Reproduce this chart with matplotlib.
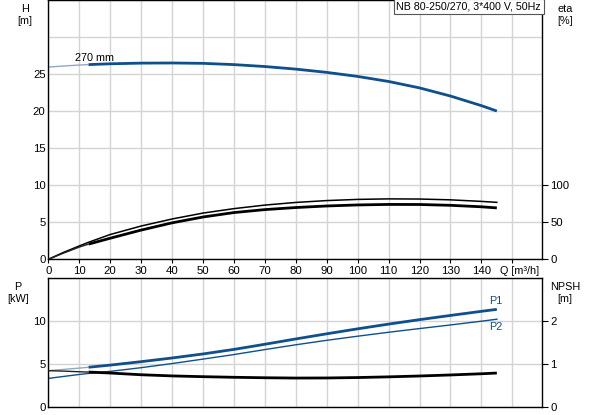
import numpy as np
import matplotlib
matplotlib.use("Agg")
import matplotlib.pyplot as plt

plt.rcParams["font.family"] = ["Liberation Sans", "DejaVu Sans"]
plt.rcParams["font.size"] = 8.2

# flow rate Q [m3/h]
q = [0, 5, 10, 13, 20, 30, 40, 50, 60, 70, 80, 90, 100, 110, 120, 130, 140, 145]
# head H [m]
head = [26.0, 26.14, 26.27, 26.33, 26.44, 26.53, 26.55, 26.5, 26.33, 26.07,
        25.72, 25.28, 24.73, 24.05, 23.18, 22.08, 20.78, 20.05]
# efficiencies [%]
eta_pump = [0, 9.5, 18, 23, 33.5, 45, 54.5, 62.5, 68.5, 73.3, 76.9, 79.4,
            81, 81.7, 81.5, 80.4, 78.3, 77]
eta_total = [0, 8.5, 16.5, 20.5, 28.5, 39.5, 49.3, 57.2, 63.2, 67.2, 70,
             72.1, 73.5, 74.2, 74.1, 73, 71, 69.5]
# power [kW]
p1 = [4.2, 4.35, 4.5, 4.6, 4.85, 5.25, 5.68, 6.15, 6.68, 7.28, 7.9, 8.5,
      9.08, 9.63, 10.15, 10.64, 11.12, 11.35]
p2 = [3.3, 3.53, 3.76, 3.88, 4.12, 4.55, 5.03, 5.55, 6.08, 6.66, 7.22, 7.74,
      8.22, 8.68, 9.11, 9.53, 9.97, 10.2]
# NPSH [m]
npsh = [0.84, 0.83, 0.815, 0.808, 0.785, 0.745, 0.718, 0.70, 0.686, 0.675,
        0.668, 0.67, 0.68, 0.696, 0.716, 0.74, 0.768, 0.785]

q_min_op = 13  # start of the recommended operating range (thick line)
title = "NB 80-250/270, 3*400 V, 50Hz"

BLUE = "#0f4f8c"
BLUE_LIGHT = "#8ea8c6"
DARK = "#222222"
GRID = "#d4d4d4"

qa = np.array(q)
op = qa >= q_min_op


def split_curve(ax, y, color, light, lw):
    y = np.array(y)
    ax.plot(qa[qa <= q_min_op], y[qa <= q_min_op], color=light, lw=1.0,
            solid_capstyle="butt")
    ax.plot(qa[op], y[op], color=color, lw=lw, solid_capstyle="butt")


def style_axes(ax):
    for s in ax.spines.values():
        s.set_color("black")
        s.set_linewidth(1.0)
    ax.set_xlim(0, 159.6)
    ax.set_xticks(np.arange(0, 151, 10))
    ax.grid(True, color=GRID, lw=1.0)
    ax.set_axisbelow(True)
    ax.tick_params(direction="out", length=3, width=0.8, pad=2)


fig = plt.figure(figsize=(5.93, 4.15), dpi=100)
ax_h = fig.add_axes([0.0815, 0.3752, 0.8325, 0.6236])
ax_p = fig.add_axes([0.0815, 0.0200, 0.8325, 0.3100])

# ---- upper chart: H and eta -------------------------------------------------
style_axes(ax_h)
ax_h.set_ylim(0, 35)
ax_h.set_yticks(np.arange(0, 36, 5))
ax_h.set_yticklabels(["0", "5", "10", "15", "20", "25", "", ""])
ax_h.set_xticklabels([str(v) for v in range(0, 141, 10)] + [""])
ax_h.tick_params(axis="y", length=0)

split_curve(ax_h, head, BLUE, BLUE_LIGHT, 2.0)
ax_h.text(8.5, 26.6, "270 mm", ha="left", va="bottom", fontsize=7.8)

ax_eta = ax_h.twinx()
ax_eta.set_ylim(0, 350)
ax_eta.set_yticks([0, 50, 100])
ax_eta.tick_params(direction="out", length=4, width=0.8, pad=2)
for s in ax_eta.spines.values():
    s.set_visible(False)
ax_eta.plot(q, eta_pump, color="black", lw=1.1)
split_curve(ax_eta, eta_total, "black", DARK, 2.0)

ax_h.text(146, -0.026, "Q [m³/h]", transform=ax_h.get_xaxis_transform(),
          ha="left", va="top", fontsize=7.8)
ax_h.text(0.998, 0.997, title, transform=ax_h.transAxes, ha="right", va="top",
          fontsize=7.7, bbox=dict(facecolor="white", edgecolor="#555555",
                                  lw=0.8, boxstyle="square,pad=0.25"))
fig.text(25 / 593, 1 - 4 / 415, "H\n[m]", ha="center", va="top",
         fontsize=7.8, linespacing=1.25)
fig.text(565 / 593, 1 - 4 / 415, "eta\n[%]", ha="center", va="top",
         fontsize=7.8, linespacing=1.25)

# ---- lower chart: P and NPSH ------------------------------------------------
style_axes(ax_p)
ax_p.set_ylim(0, 15)
ax_p.set_yticks([0, 5, 10, 15])
ax_p.set_yticklabels(["0", "5", "10", ""])
ax_p.set_xticklabels([])
ax_p.tick_params(axis="x", length=0)
ax_p.tick_params(axis="y", length=0)

split_curve(ax_p, p1, BLUE, BLUE_LIGHT, 2.0)
ax_p.plot(q, p2, color=BLUE, lw=1.0)
ax_p.text(142.5, p1[-1] + 0.35, "P1", color=BLUE, ha="left", va="bottom",
          fontsize=7.8)
ax_p.text(142.5, p2[-1] - 0.35, "P2", color=BLUE, ha="left", va="top",
          fontsize=7.8)

ax_npsh = ax_p.twinx()
ax_npsh.set_ylim(0, 3)
ax_npsh.set_yticks([0, 1, 2])
ax_npsh.tick_params(direction="out", length=4, width=0.8, pad=2)
for s in ax_npsh.spines.values():
    s.set_visible(False)
split_curve(ax_npsh, npsh, "black", DARK, 2.0)

fig.text(18 / 593, 1 - 282 / 415, "P\n[kW]", ha="center", va="top",
         fontsize=7.8, linespacing=1.25)
fig.text(565 / 593, 1 - 282 / 415, "NPSH\n[m]", ha="center", va="top",
         fontsize=7.8, linespacing=1.25)

fig.savefig("out.png", dpi=100)
